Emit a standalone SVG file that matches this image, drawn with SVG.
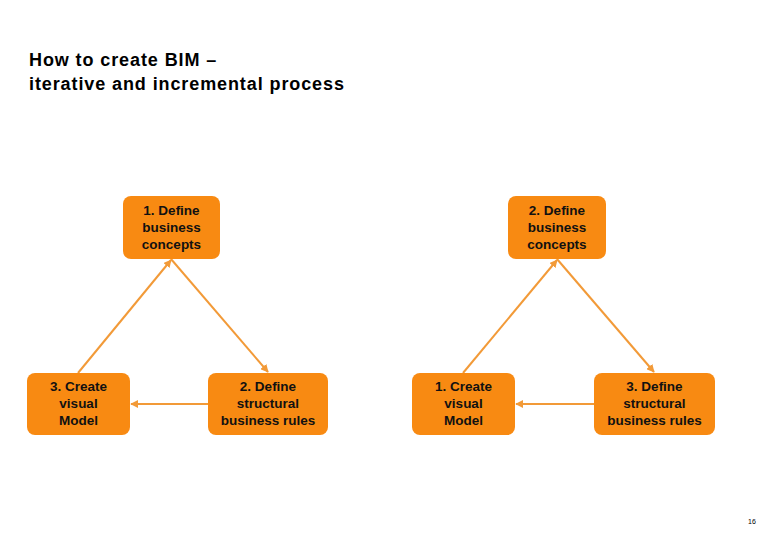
<svg xmlns="http://www.w3.org/2000/svg" width="780" height="540" viewBox="0 0 780 540">
<style>
.box{fill:#F88A12;}
.t{font-family:"Liberation Sans",Arial,sans-serif;font-size:13.5px;font-weight:bold;fill:#111;text-anchor:middle;}
.title{font-family:"Liberation Sans",Arial,sans-serif;font-size:18px;font-weight:bold;letter-spacing:0.9px;fill:#000;}
.c{stroke:#F29A38;stroke-width:2;fill:none;marker-end:url(#ah);}
</style>
<defs>
<marker id="ah" viewBox="0 0 10 10" refX="9" refY="5" markerWidth="4" markerHeight="4" orient="auto" markerUnits="strokeWidth">
<path d="M0,0 L10,5 L0,10 Z" fill="#F29A38"/>
</marker>
</defs>
<rect width="780" height="540" fill="#fff"/>
<text class="title" x="29" y="66">How to create BIM –</text>
<text class="title" x="29" y="90">iterative and incremental process</text>
<g id="connectors">
<line class="c" x1="78" y1="373" x2="171" y2="260"/>
<line class="c" x1="171" y1="259" x2="268" y2="372"/>
<line class="c" x1="208" y1="404" x2="131" y2="404"/>
<line class="c" x1="463" y1="373" x2="557" y2="260"/>
<line class="c" x1="557" y1="259" x2="654" y2="372"/>
<line class="c" x1="594" y1="404" x2="516" y2="404"/>
</g>
<g id="n1">
<rect class="box" x="123" y="196" width="97" height="63" rx="8"/>
<text class="t" x="171.5" y="215">1. Define</text>
<text class="t" x="171.5" y="232">business</text>
<text class="t" x="171.5" y="249">concepts</text>
</g>
<g id="n2">
<rect class="box" x="208" y="373" width="120" height="62" rx="8"/>
<text class="t" x="268" y="391">2. Define</text>
<text class="t" x="268" y="408">structural</text>
<text class="t" x="268" y="425">business rules</text>
</g>
<g id="n3">
<rect class="box" x="27" y="373" width="103" height="62" rx="8"/>
<text class="t" x="78.5" y="391">3. Create</text>
<text class="t" x="78.5" y="408">visual</text>
<text class="t" x="78.5" y="425">Model</text>
</g>
<g id="m2">
<rect class="box" x="508" y="196" width="98" height="63" rx="8"/>
<text class="t" x="557" y="215">2. Define</text>
<text class="t" x="557" y="232">business</text>
<text class="t" x="557" y="249">concepts</text>
</g>
<g id="m1">
<rect class="box" x="412" y="373" width="103" height="62" rx="8"/>
<text class="t" x="463.5" y="391">1. Create</text>
<text class="t" x="463.5" y="408">visual</text>
<text class="t" x="463.5" y="425">Model</text>
</g>
<g id="m3">
<rect class="box" x="594" y="373" width="121" height="62" rx="8"/>
<text class="t" x="654.5" y="391">3. Define</text>
<text class="t" x="654.5" y="408">structural</text>
<text class="t" x="654.5" y="425">business rules</text>
</g>
<text x="752" y="524" font-family="Liberation Sans,Arial,sans-serif" font-size="7" fill="#000" text-anchor="middle">16</text>
</svg>
